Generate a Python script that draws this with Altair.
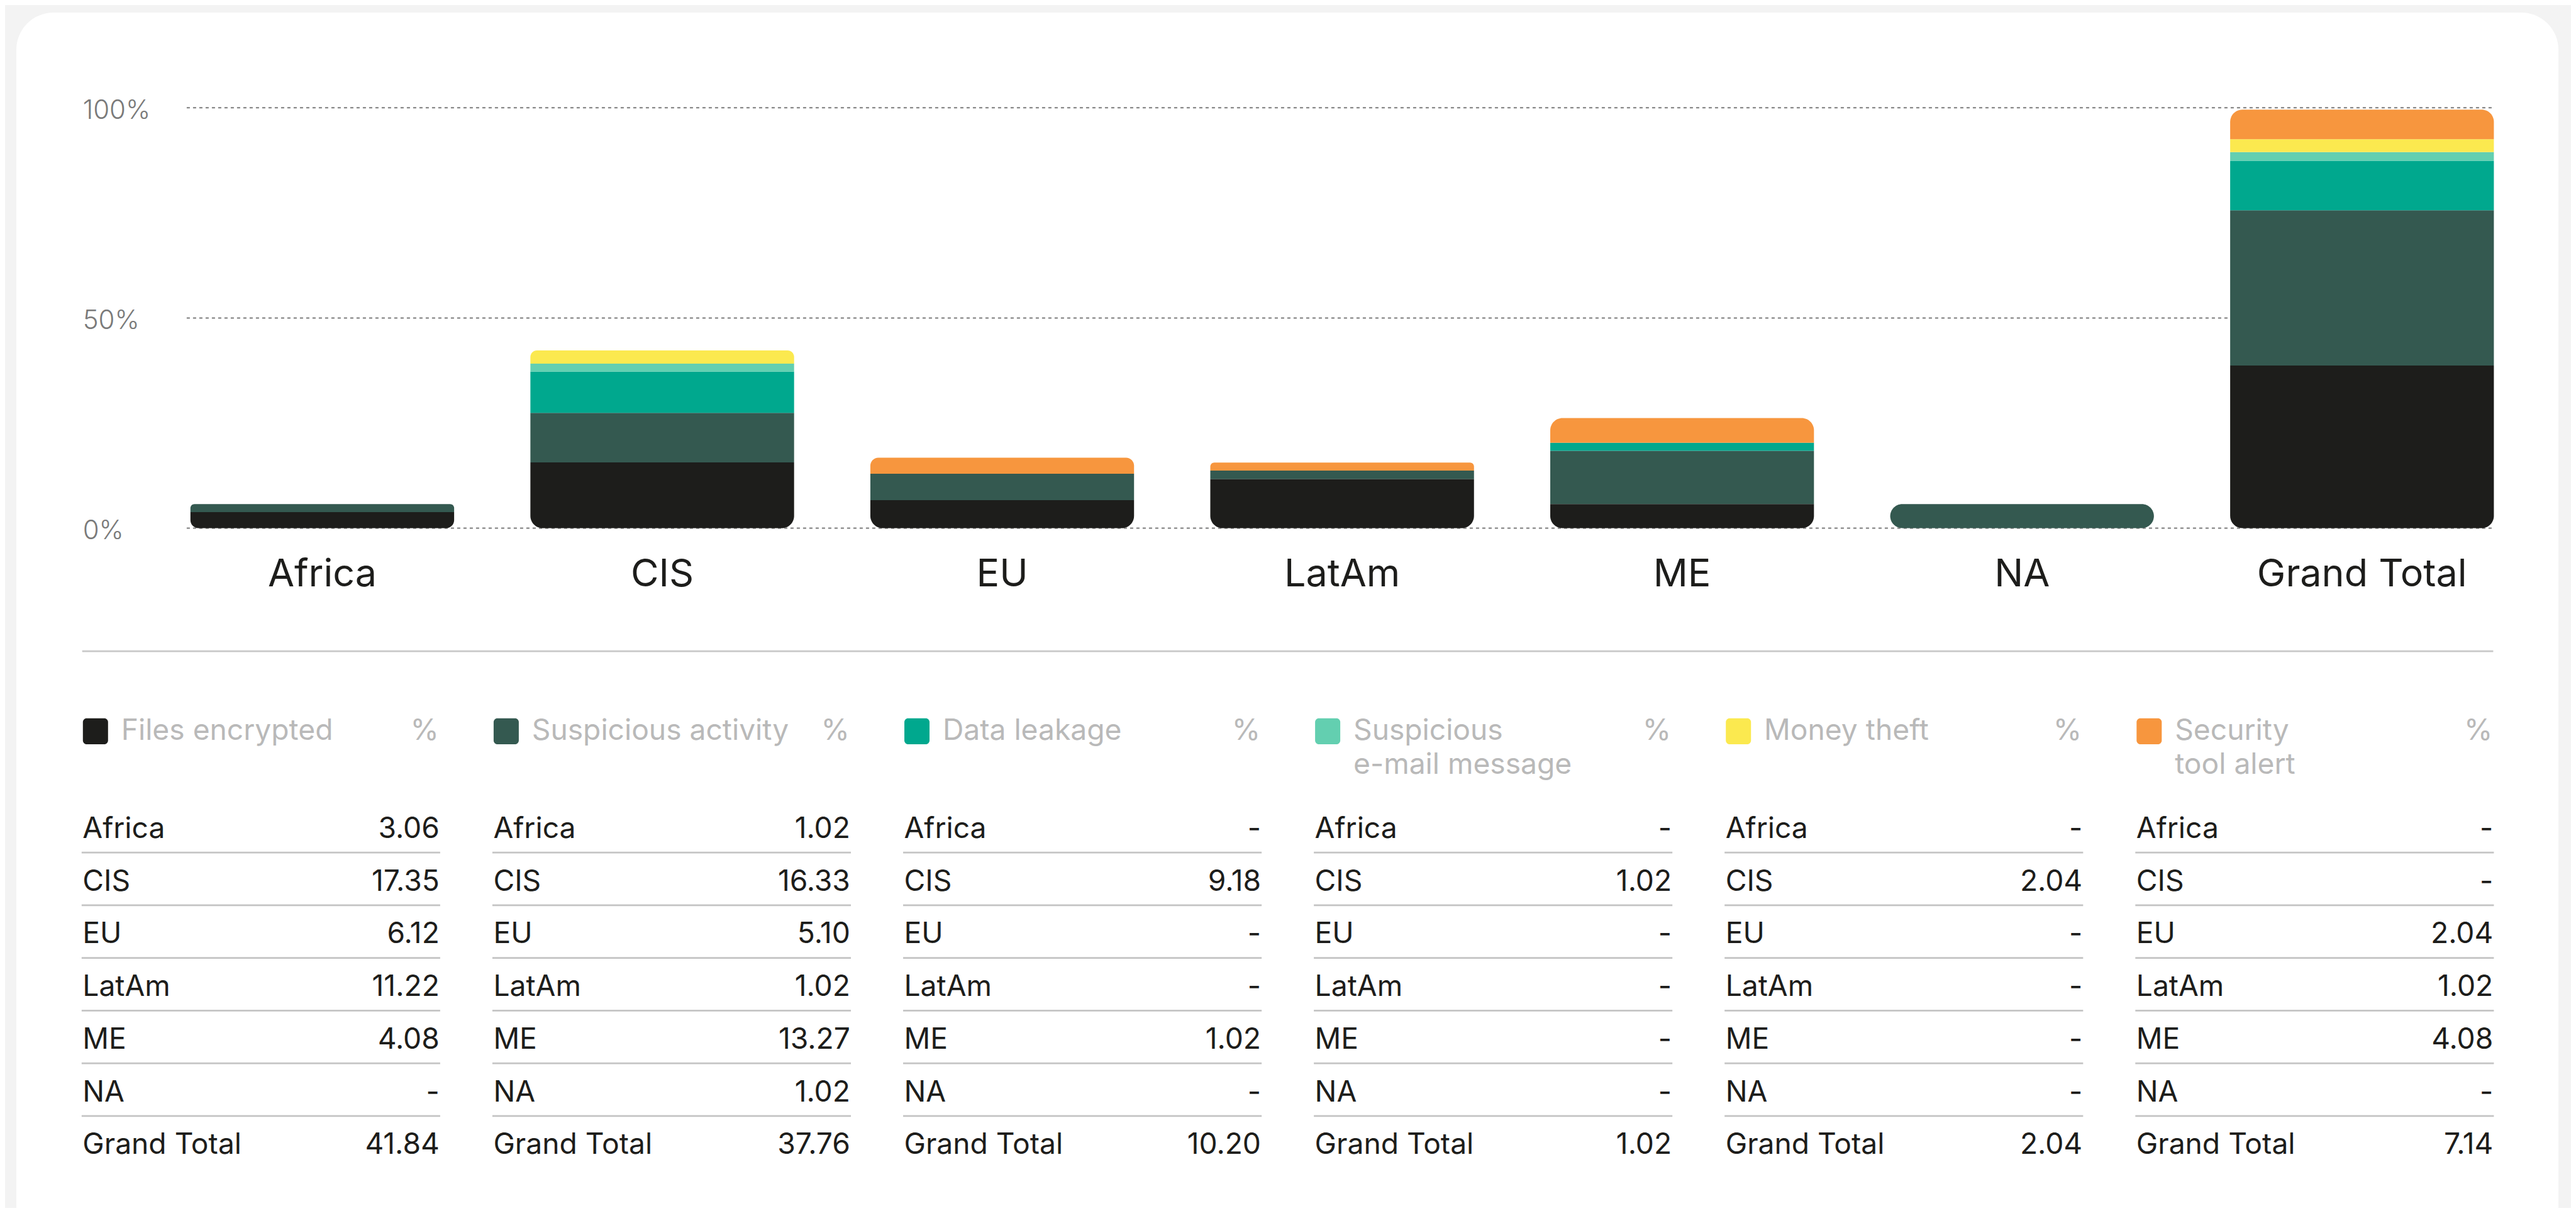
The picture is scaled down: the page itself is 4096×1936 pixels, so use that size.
import altair as alt
import pandas as pd

# ---------------- data ----------------
regions = ["Africa", "CIS", "EU", "LatAm", "ME", "NA", "Grand Total"]
series = ["Files encrypted", "Suspicious activity", "Data leakage",
          "Suspicious e-mail message", "Money theft", "Security tool alert"]
series_labels = ["Files encrypted", "Suspicious activity", "Data leakage",
                 "Suspicious\ne-mail message", "Money theft", "Security\ntool alert"]
colors = ["#1d1d1b", "#345950", "#00a88e", "#63cfb0", "#fbe94f", "#f7963e"]

# bar segment heights as drawn in the chart (% of incidents)
bar_files_encrypted = [3.83, 15.64, 6.66, 11.62, 5.74, 0.00, 38.69]
bar_suspicious_activity = [1.91, 11.77, 6.28, 2.06, 12.65, 5.74, 36.93]
bar_data_leakage = [0.00, 9.81, 0.00, 0.00, 1.91, 0.00, 11.77]
bar_suspicious_email = [0.00, 1.91, 0.00, 0.00, 0.00, 0.00, 2.06]
bar_money_theft = [0.00, 3.13, 0.00, 0.00, 0.00, 0.00, 3.09]
bar_security_alert = [0.00, 0.00, 3.83, 1.91, 5.88, 0.00, 7.02]

# table values as printed (%)
tbl_files_encrypted = ["3.06", "17.35", "6.12", "11.22", "4.08", "-", "41.84"]
tbl_suspicious_activity = ["1.02", "16.33", "5.10", "1.02", "13.27", "1.02\u00a0", "37.76"]
tbl_data_leakage = ["-", "9.18", "-", "-", "1.02", "-", "10.20"]
tbl_suspicious_email = ["-", "1.02", "-", "-", "-", "-", "1.02"]
tbl_money_theft = ["-", "2.04", "-", "-", "-", "-", "2.04"]
tbl_security_alert = ["-", "-", "2.04", "1.02", "4.08", "-", "7.14"]

y_ticks = [0, 50, 100]
y_tick_labels = ["0%", "50%", "100%"]

bars = [bar_files_encrypted, bar_suspicious_activity, bar_data_leakage,
        bar_suspicious_email, bar_money_theft, bar_security_alert]
tables = [tbl_files_encrypted, tbl_suspicious_activity, tbl_data_leakage,
          tbl_suspicious_email, tbl_money_theft, tbl_security_alert]

# ---------------- frames ----------------
seg_rows = []
for ri, reg in enumerate(regions):
    vals = [b[ri] for b in bars]
    nz = [k for k, v in enumerate(vals) if v > 0]
    base = 0.0
    for k in nz:
        if k == nz[0] and k == nz[-1]:
            pos = "both"
        elif k == nz[0]:
            pos = "bottom"
        elif k == nz[-1]:
            pos = "top"
        else:
            pos = "mid"
        seg_rows.append(dict(region=reg, series=series[k], y0=base, y1=base + vals[k], pos=pos))
        base += vals[k]
seg_df = pd.DataFrame(seg_rows)

tbl_rows = []
for k in range(len(series)):
    for i, reg in enumerate(regions):
        tbl_rows.append(dict(col=k, row=i, name=reg, value=tables[k][i]))
tbl_df = pd.DataFrame(tbl_rows)
line_df = tbl_df[tbl_df.row < len(regions) - 1]
head_df = pd.DataFrame(dict(col=list(range(len(series))), series=series,
                            label=series_labels, pct=["%"] * len(series)))

# ---------------- layout ----------------
W, H = 4042, 1900
FONT = "Inter"
X_BAR = alt.Scale(type="band", domain=regions, range=[276.8, 3939.4],
                  paddingInner=0.2243, paddingOuter=0)
Y_BAR = alt.Scale(domain=[0, 100], range=[819.5, 151.3], nice=False, zero=False)
COLOR = alt.Scale(domain=series, range=colors)
X_TBL = alt.Scale(domain=[0, 5], range=[103.8, 3369.3], nice=False, zero=False)
Y_TBL = alt.Scale(domain=[0, 6], range=[1311.8, 1814.3], nice=False, zero=False)
R = 19.5

card = alt.Chart(pd.DataFrame({"a": [0]})).mark_rect(
    color="white", cornerRadiusTopLeft=59, cornerRadiusTopRight=59
).encode(x=alt.value(0), x2=alt.value(W), y=alt.value(0), y2=alt.value(H))

grid = alt.Chart(pd.DataFrame({"v": y_ticks})).mark_rule(
    color="#7b7b7b", strokeWidth=2, strokeDash=[5, 5]
).encode(
    y=alt.Y("v:Q", scale=Y_BAR, axis=None),
    x=alt.value(270.9), x2=alt.value(3938.4),
)

ylab = alt.Chart(pd.DataFrame({"v": y_ticks, "t": y_tick_labels})).mark_text(
    align="left", baseline="alphabetic", dy=17.4, font=FONT, fontSize=41.9,
    fontWeight=300, color="#7a7a7a"
).encode(
    y=alt.Y("v:Q", scale=Y_BAR, axis=None), x=alt.value(105.7), text="t:N"
)


def bar_layer(pos, **corners):
    d = seg_df[seg_df.pos == pos]
    if len(d) == 0:
        return None
    return alt.Chart(d).mark_bar(**corners).encode(
        x=alt.X("region:N", scale=X_BAR, axis=None),
        y=alt.Y("y1:Q", scale=Y_BAR, axis=None),
        y2="y0:Q",
        color=alt.Color("series:N", scale=COLOR, legend=None),
    )


bar_layers = [
    bar_layer("mid"),
    bar_layer("bottom", cornerRadiusBottomLeft=R, cornerRadiusBottomRight=R),
    bar_layer("top", cornerRadiusTopLeft=R, cornerRadiusTopRight=R),
    bar_layer("both", cornerRadius=R),
]
bar_layers = [b for b in bar_layers if b is not None]

xlab = alt.Chart(pd.DataFrame({"region": regions})).mark_text(
    baseline="alphabetic", align="center", font=FONT, fontSize=61, color="#1d1d1b"
).encode(
    x=alt.X("region:N", scale=X_BAR, axis=None, bandPosition=0.5),
    y=alt.value(911.9), text="region:N"
)

sep = alt.Chart(pd.DataFrame({"a": [0]})).mark_rule(color="#c8c8c8", strokeWidth=2.6).encode(
    x=alt.value(104.7), x2=alt.value(3938.4), y=alt.value(1015.1)
)

swatch = alt.Chart(head_df).mark_rect(cornerRadius=6, xOffset=2, x2Offset=42).encode(
    x=alt.X("col:Q", scale=X_TBL, axis=None), x2="col:Q",
    y=alt.value(1121.8), y2=alt.value(1163.0),
    color=alt.Color("series:N", scale=COLOR, legend=None),
)

head_txt = alt.Chart(head_df).mark_text(
    align="left", baseline="alphabetic", dx=62.9, lineBreak="\n", lineHeight=54.7,
    font=FONT, fontSize=46.2, color="#b9b9b9"
).encode(
    x=alt.X("col:Q", scale=X_TBL, axis=None), y=alt.value(1155.7), text="label:N"
)

head_pct = alt.Chart(head_df).mark_text(
    align="right", baseline="alphabetic", dx=568, font=FONT, fontSize=46.2, color="#b9b9b9"
).encode(
    x=alt.X("col:Q", scale=X_TBL, axis=None), y=alt.value(1155.7), text="pct:N"
)

row_lines = alt.Chart(line_df).mark_rule(
    color="#c4c4c4", strokeWidth=2.7, yOffset=23.4, y2Offset=23.4, x2Offset=570.1
).encode(
    x=alt.X("col:Q", scale=X_TBL, axis=None), x2="col:Q",
    y=alt.Y("row:Q", scale=Y_TBL, axis=None),
)

names = alt.Chart(tbl_df).mark_text(
    align="left", baseline="alphabetic", dx=1.5, font=FONT, fontSize=46.2, color="#1d1d1b"
).encode(
    x=alt.X("col:Q", scale=X_TBL, axis=None),
    y=alt.Y("row:Q", scale=Y_TBL, axis=None),
    text="name:N",
)

values = alt.Chart(tbl_df).mark_text(
    align="right", baseline="alphabetic", dx=569, font=FONT, fontSize=46.2, color="#1d1d1b"
).encode(
    x=alt.X("col:Q", scale=X_TBL, axis=None),
    y=alt.Y("row:Q", scale=Y_TBL, axis=None),
    text="value:N",
)

chart = alt.layer(
    card, grid, *bar_layers, ylab, xlab, sep, swatch, head_txt, head_pct,
    row_lines, names, values
).resolve_scale(
    x="independent", y="independent"
).properties(
    width=W, height=H,
    padding={"left": 18, "top": 12, "right": 20, "bottom": 0},
    autosize=alt.AutoSizeParams(type="none"),
    background="#f3f3f3",
).configure_view(
    stroke="transparent"
)

chart.save("out.html", embed_options={"renderer": "svg", "actions": False})
